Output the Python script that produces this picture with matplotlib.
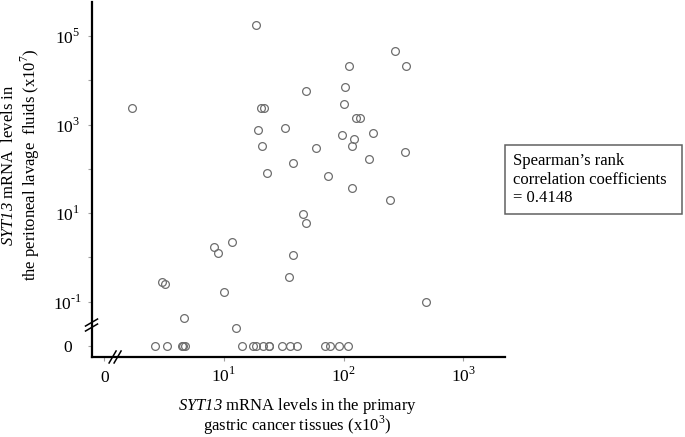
""" SYT13 mRNA: primary tumour vs peritoneal lavage, broken log axes """

import matplotlib.pyplot as plt
import numpy as np

plt.rcParams["font.family"] = ["Liberation Serif", "DejaVu Serif"]
plt.rcParams["mathtext.fontset"] = "custom"
plt.rcParams["mathtext.rm"] = "Liberation Serif"
# mathtext keeps digits upright in \mathit, so use sf as an italic slot
plt.rcParams["mathtext.sf"] = "Liberation Serif:italic"

# Tissue levels (x10^3) and lavage levels (x10^7); lavage 0 = below detection
tissue = [18.6, 266, 110, 330, 102, 48.6, 100, 1.69, 20.4, 21.7,
          127, 138, 32.1, 19.2, 175, 96.4, 121, 20.7, 118, 59.0,
          324, 162, 37.8, 22.9, 73.3, 118, 245, 45.5, 48.3, 8.26,
          11.7, 8.87, 37.6, 34.8, 3.01, 3.21, 9.91, 4.60, 12.7, 491,
          2.67, 3.34, 4.42, 4.55, 4.68, 14.2, 17.6, 18.5, 21.2, 23.6,
          24.0, 30.3, 35.3, 40.7, 69.5, 77.6, 91.2, 108]
lavage = [175000, 45100, 21300, 20700, 6930, 5820, 2870, 2400, 2400, 2400,
          1380, 1380, 836, 741, 655, 590, 467, 328, 324, 296,
          243, 164, 133, 81.8, 68.9, 36.9, 20.1, 9.40, 5.89, 1.76,
          2.26, 1.28, 1.13, 0.366, 0.278, 0.248, 0.166, 0.0422, 0.0255, 0.100,
          0, 0, 0, 0, 0, 0, 0, 0, 0, 0,
          0, 0, 0, 0, 0, 0, 0, 0]

x_ticks = [0, 10, 100, 1000]
x_labels = ["0", "$10^{1}$", "$10^{2}$", "$10^{3}$"]
y_ticks = [0, 0.1, 10, 1e3, 1e5]
y_labels = ["0", "$10^{\\text{-}1}$", "$10^{1}$", "$10^{3}$", "$10^{5}$"]
y_minor = [1, 100, 1e4]
x_title = ["$\\mathsf{SYT13}$ mRNA levels in the primary",
           "gastric cancer tissues (x10$^{3}$)"]
y_title = "$\\mathsf{SYT13}$ mRNA  levels in\nthe peritoneal lavage  fluids (x10$^{7}$)"
rho_text = "Spearman\u2019s rank\ncorrelation coefficients\n= 0.4148"


# log scale where a zero value sits on the break position
def make_fwd(zero_pos):
    def fwd(v):
        v = np.asarray(v, dtype=float)
        with np.errstate(divide="ignore", invalid="ignore"):
            out = np.log10(v)
        return np.where(v > 0, out, zero_pos)
    return fwd


def inv(t):
    return 10.0 ** np.asarray(t, dtype=float)


fig = plt.figure(figsize=(6.85, 4.37), dpi=100)
ax = fig.add_axes([0.1336, 0.1831, 0.6036, 0.8124])
ax.set_xscale("function", functions=(make_fwd(0.0), inv))
ax.set_yscale("function", functions=(make_fwd(-2.0), inv))

ax.plot(tissue, lavage, "o", ms=5.6, mfc="none", mec="#6e6e6e", mew=0.9,
        clip_on=False)

ax.set_xticks(x_ticks)
ax.set_xticklabels(x_labels)
ax.set_yticks(y_ticks)
ax.set_yticklabels(y_labels)
ax.set_yticks(y_minor, minor=True)

# limits after the ticks, since set_ticks widens the view to hold 0
ax.set_xlim(10 ** -0.107, 10 ** 3.348)
ax.set_ylim(10 ** -2.248, 10 ** 5.768)

ax.tick_params(which="both", direction="out", length=3, width=0.8,
               color="#a0a0a0", labelsize=12.5)
ax.tick_params(axis="x", pad=15)
ax.tick_params(axis="y", which="major", pad=14)
for lab in ax.get_xticklabels():
    lab.set_verticalalignment("baseline")
for lab in ax.get_yticklabels():
    lab.set_horizontalalignment("center")
    lab.set_verticalalignment("center_baseline")

for side in ["top", "right"]:
    ax.spines[side].set_visible(False)
for side in ["left", "bottom"]:
    ax.spines[side].set_linewidth(1.6)
    ax.spines[side].set_color("black")

# axis break marks
w_px, h_px = 0.6036 * 685, 0.8124 * 437
for off in [-2.5, 2.5]:
    ax.plot([-6 / w_px, 6 / w_px],
            [0.090 + (off - 3.5) / h_px, 0.090 + (off + 3.5) / h_px],
            color="black", lw=1.1, transform=ax.transAxes, clip_on=False)
    ax.plot([0.057 + (off - 3.5) / w_px, 0.057 + (off + 3.5) / w_px],
            [-6 / h_px, 6 / h_px],
            color="black", lw=1.1, transform=ax.transAxes, clip_on=False)

# axis titles
fig.text(21.5 / 685, 1 - 165 / 437, y_title,
         rotation=90, ha="center", va="center", multialignment="center",
         fontsize=12, linespacing=1.15)
fig.text(297.5 / 685, 1 - 410 / 437, x_title[0],
         ha="center", va="baseline", fontsize=12)
fig.text(297.5 / 685, 1 - 431 / 437, x_title[1],
         ha="center", va="baseline", fontsize=12)

# correlation box
fig.patches.append(plt.Rectangle((505 / 685, 1 - 214 / 437), 177 / 685, 69.5 / 437,
                                 transform=fig.transFigure, fill=False,
                                 edgecolor="#606060", lw=1.1))
fig.text(513 / 685, 1 - 179.5 / 437, rho_text, ha="left", va="center",
         fontsize=12, linespacing=1.2)

plt.savefig("out.png", dpi=100)
